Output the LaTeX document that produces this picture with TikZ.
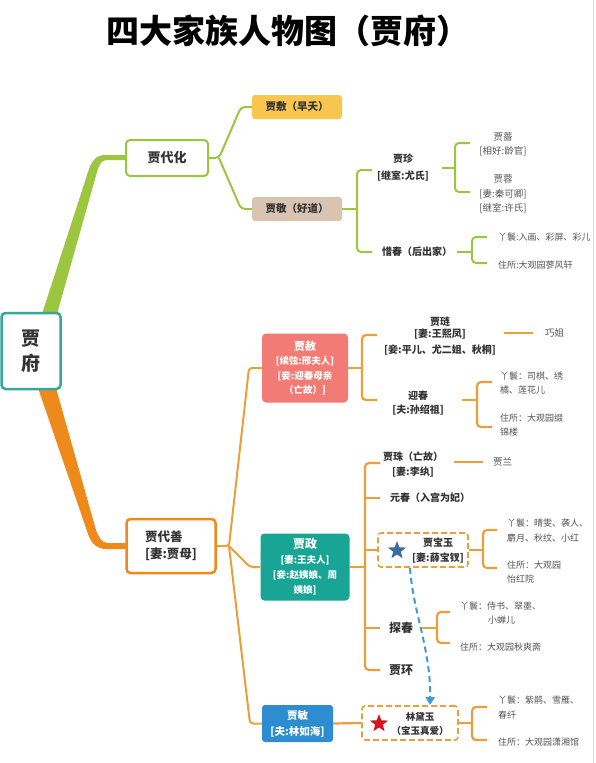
\documentclass[tikz,border=0pt]{standalone}
\usepackage{fontspec}
\setmainfont{Noto Sans CJK SC}
\usetikzlibrary{shapes.geometric,arrows.meta}
\definecolor{grn}{HTML}{9CC63F}
\definecolor{org}{HTML}{EE8A1C}
\definecolor{orgl}{HTML}{EAA03A}
\definecolor{teal1}{HTML}{35A89A}
\definecolor{gold}{HTML}{F8C54F}
\definecolor{beige}{HTML}{D9C4B2}
\definecolor{salmon}{HTML}{F27B76}
\definecolor{tealbox}{HTML}{18A596}
\definecolor{bluebox}{HTML}{2E8DD0}
\definecolor{txt}{HTML}{333333}
\definecolor{gtxt}{HTML}{555555}
\definecolor{dashblue}{HTML}{3E9BD6}
\definecolor{starblue}{HTML}{3D6BA0}
\definecolor{starred}{HTML}{D7141E}
\definecolor{edgeline}{HTML}{D3E2E2}
\tikzset{
  lbl/.style={font=\bfseries\fontsize{10}{15}\selectfont, text=txt, inner sep=0, align=center},
  glbl/.style={font=\fontsize{9}{14}\selectfont, text=gtxt, inner sep=0, align=left},
  wlbl/.style={font=\bfseries\fontsize{9.5}{14.5}\selectfont, text=white, inner sep=0, align=center},
  gline/.style={draw=grn, line width=2pt, rounded corners=4pt},
  oline/.style={draw=orgl, line width=2.2pt, rounded corners=4pt},
  tline/.style={draw=orgl, line width=2pt, rounded corners=3pt},
  dbox/.style={draw=orgl, line width=1.6pt, dash pattern=on 6pt off 3pt, rounded corners=3pt, inner sep=0, fill=white},
  starnode/.style={star, star points=5, star point ratio=2.4, minimum size=19pt, inner sep=0},
}
\begin{document}
\begin{tikzpicture}[x=1pt,y=-1pt]
\useasboundingbox (0,0) rectangle (595,763);
\fill[white] (0,0) rectangle (595,763);
\draw[edgeline, line width=1pt] (593,0) -- (593,763);

\node[font=\bfseries\fontsize{33}{33}\selectfont, text=black, inner sep=0] (title) at (288,31) {四大家族人物图（贾府）};

% main trunks
\fill[grn] (42,314) -- (88,172) .. controls (92,160) and (96,155) .. (106,155) -- (128,155) -- (128,160) -- (107,160) .. controls (101,160) and (99,165) .. (97,172) -- (57,314) -- cycle;
\fill[org] (38,388) -- (87,531) .. controls (90,542) and (96,549) .. (106,549) -- (128,549) -- (128,543) -- (108,543) .. controls (102,543) and (99,538) .. (96,530) -- (56,388) -- cycle;

% root
\node[draw=teal1, line width=2.5pt, fill=white, rounded corners=4pt, minimum width=59pt, minimum height=76pt, inner sep=0, font=\bfseries\fontsize{19}{25}\selectfont, text=txt, align=center] (root) at (31,351) {贾\\府};

% ===== 贾代化 branch =====
\node[draw=grn, line width=2pt, fill=white, rounded corners=4pt, minimum width=82pt, minimum height=36pt, inner sep=0, font=\bfseries\fontsize{13}{15}\selectfont, text=txt] (daihua) at (167,158) {贾代化};
\node[fill=gold, rounded corners=3pt, minimum width=90pt, minimum height=24pt, lbl, font=\bfseries\fontsize{10.5}{15}\selectfont] (jiafu) at (297,107) {贾敷（早夭）};
\node[fill=beige, rounded corners=3pt, minimum width=90pt, minimum height=24pt, lbl, font=\bfseries\fontsize{10.5}{15}\selectfont] (jiajing) at (297,209) {贾敬（好道）};
\coordinate (dsplit) at (219,158);
\draw[gline] (daihua.east) -- (dsplit) -- (241,107) -- (jiafu.west);
\draw[gline] (dsplit) -- (241,209) -- (jiajing.west);

\node[lbl, font=\bfseries\fontsize{10}{17}\selectfont] (jiazhen) at (403,168) {贾珍\\{[}继室:尤氏]};
\node[lbl, anchor=west] (xichun) at (382,252) {惜春（后出家）};
\draw[gline] (jiajing.east) -- (357,209);
\draw[gline] (372,170) -- (357,170) -- (357,252) -- (372,252);

\node[glbl, align=center, font=\fontsize{9.5}{14}\selectfont] (jiaqiang) at (503,144) {贾蔷\\{[}相好:龄官]};
\node[glbl, align=center, font=\fontsize{9.5}{14.5}\selectfont] (jiarong) at (503,194) {贾蓉\\{[}妻:秦可卿]\\{[}继室:许氏]};
\draw[gline] (442,168) -- (455,168);
\draw[gline] (470,143) -- (455,143) -- (455,192) -- (470,192);

\node[glbl, anchor=west] (xcmaid) at (498,237) {丫鬟:入画、彩屏、彩儿};
\node[glbl, anchor=west] (xchome) at (498,265) {住所:大观园蓼风轩};
\draw[gline] (457,252) -- (472,252);
\draw[gline] (487,237) -- (472,237) -- (472,263) -- (487,263);

% ===== 贾代善 branch =====
\node[draw=org, line width=2.5pt, fill=white, rounded corners=4pt, minimum width=89pt, minimum height=54pt, inner sep=0, font=\bfseries\fontsize{12.5}{17}\selectfont, text=txt, align=left] (daishan) at (171,546) {贾代善\\{[}妻:贾母]};
\node[fill=salmon, rounded corners=4pt, minimum width=86pt, minimum height=69pt, wlbl] (jiashe) at (305,368) {{\fontsize{11}{14.5}\selectfont 贾赦}\\{[}续弦:邢夫人]\\{[}妾:迎春母亲\\（亡故）]};
\node[fill=tealbox, rounded corners=4pt, minimum width=89pt, minimum height=67pt, wlbl, font=\bfseries\fontsize{9.5}{15}\selectfont] (jiazheng) at (305,567) {{\fontsize{12}{15}\selectfont 贾政}\\{[}妻:王夫人]\\{[}妾:赵姨娘、周\\姨娘]};
\node[fill=bluebox, rounded corners=3pt, minimum width=71pt, minimum height=37pt, wlbl, font=\bfseries\fontsize{10.5}{16}\selectfont] (jiamin) at (297.5,723.5) {贾敏\\{[}夫:林如海]};
\coordinate (ssplit) at (229,546);
\draw[tline] (daishan.east) -- (ssplit) -- (249,368) -- (jiashe.west);
\draw[tline] (ssplit) -- (250,567) -- (jiazheng.west);
\draw[tline] (ssplit) -- (250,723.5) -- (jiamin.west);

% 贾赦 children
\draw[oline] (jiashe.east) -- (362,368);
\draw[oline] (377,335) -- (362,335) -- (362,400) -- (377,400);
\node[lbl, font=\bfseries\fontsize{10}{14}\selectfont] (jialian) at (440,336) {贾琏\\[-2pt]{[}妻:王熙凤]\\[2pt]{[}妾:平儿、尤二姐、秋桐]};
\node[glbl, anchor=west, font=\fontsize{9.5}{14}\selectfont] (qiaojie) at (545,333) {巧姐};
\draw[oline] (504,333) -- (533,333);
\node[lbl, font=\bfseries\fontsize{10}{13.5}\selectfont] (yingchun) at (418,403) {迎春\\{[}夫:孙绍祖]};
\draw[oline] (462,400) -- (477,400);
\draw[oline] (492,382) -- (477,382) -- (477,427) -- (492,427);
\node[glbl, anchor=west] (ycmaid) at (500,383) {丫鬟：司棋、绣\\橘、莲花儿};
\node[glbl, anchor=west] (ychome) at (500,425) {住所：大观园缀\\锦楼};

% 贾政 children
\draw[oline] (jiazheng.east) -- (365,567);
\draw[oline] (380,463) -- (365,463) -- (365,670) -- (380,670);
\draw[oline] (365,498) -- (380,498);
\draw[oline] (365,628) -- (380,628);
\node[lbl] (jiazhu) at (413,464.5) {贾珠（亡故）\\{[}妻:李纨]};
\draw[oline] (454,462) -- (483,462);
\node[glbl, anchor=west, font=\fontsize{9.5}{14}\selectfont] (jialan) at (493,462) {贾兰};
\node[lbl, anchor=west] (yuanchun) at (390,498) {元春（入宫为妃）};

\node[dbox, minimum width=90pt, minimum height=34pt] (baoyu) at (423,550) {};
\node[starnode, fill=starblue] (bystar) at (397,550.5) {};
\node[lbl] (bytext) at (438,550.5) {贾宝玉\\{[}妻:薛宝钗]};
\draw[oline] (365,550) -- (baoyu.west);
\draw[oline] (baoyu.east) -- (483,550);
\draw[oline] (497,530) -- (483,530) -- (483,568) -- (497,568);
\node[glbl, anchor=west, font=\fontsize{9}{15}\selectfont] (bymaid) at (507,530.5) {丫鬟：晴雯、袭人、\\麝月、秋纹、小红};
\node[glbl, anchor=west] (byhome) at (507,572) {住所：大观园\\怡红院};

\node[lbl, anchor=west, font=\bfseries\fontsize{12}{14}\selectfont] (tanchun) at (389,628) {探春};
\draw[oline] (422,628) -- (437,628);
\draw[oline] (450,612) -- (437,612) -- (437,643) -- (450,643);
\node[glbl, anchor=west] (tcmaid) at (460,606) {丫鬟：侍书、翠墨、};
\node[glbl, anchor=west] (tcmaid2) at (488,620) {小蝉儿};
\node[glbl, anchor=west] (tchome) at (460,647) {住所：大观园秋爽斋};
\node[lbl, anchor=west, font=\bfseries\fontsize{12}{14}\selectfont] (jiahuan) at (389,670) {贾环};

% 贾敏 children
\node[dbox, minimum width=96pt, minimum height=34pt] (daiyu) at (410,723) {};
\node[starnode, fill=starred] (dystar) at (379,723.5) {};
\node[lbl, font=\bfseries\fontsize{9.5}{14}\selectfont] (dytext) at (420,724) {林黛玉\\（宝玉真爱）};
\draw[oline] (jiamin.east) -- (daiyu.west);
\draw[oline] (daiyu.east) -- (472,723);
\draw[oline] (487,707) -- (472,707) -- (472,740) -- (487,740);
\node[glbl, anchor=west, font=\fontsize{9}{15}\selectfont] (dymaid) at (498,707.5) {丫鬟：紫鹃、雪雁、\\春纤};
\node[glbl, anchor=west] (dyhome) at (498,742) {住所：大观园潇湘馆};

% dashed relation arrow
\coordinate (arrS) at (410,568);
\coordinate (arrE) at (430,705);
\draw[dashblue, line width=2pt, dash pattern=on 6pt off 4pt, -{Triangle[width=9pt,length=8pt]}] (arrS) .. controls (413,612) and (431,650) .. (arrE);
\end{tikzpicture}
\end{document}
